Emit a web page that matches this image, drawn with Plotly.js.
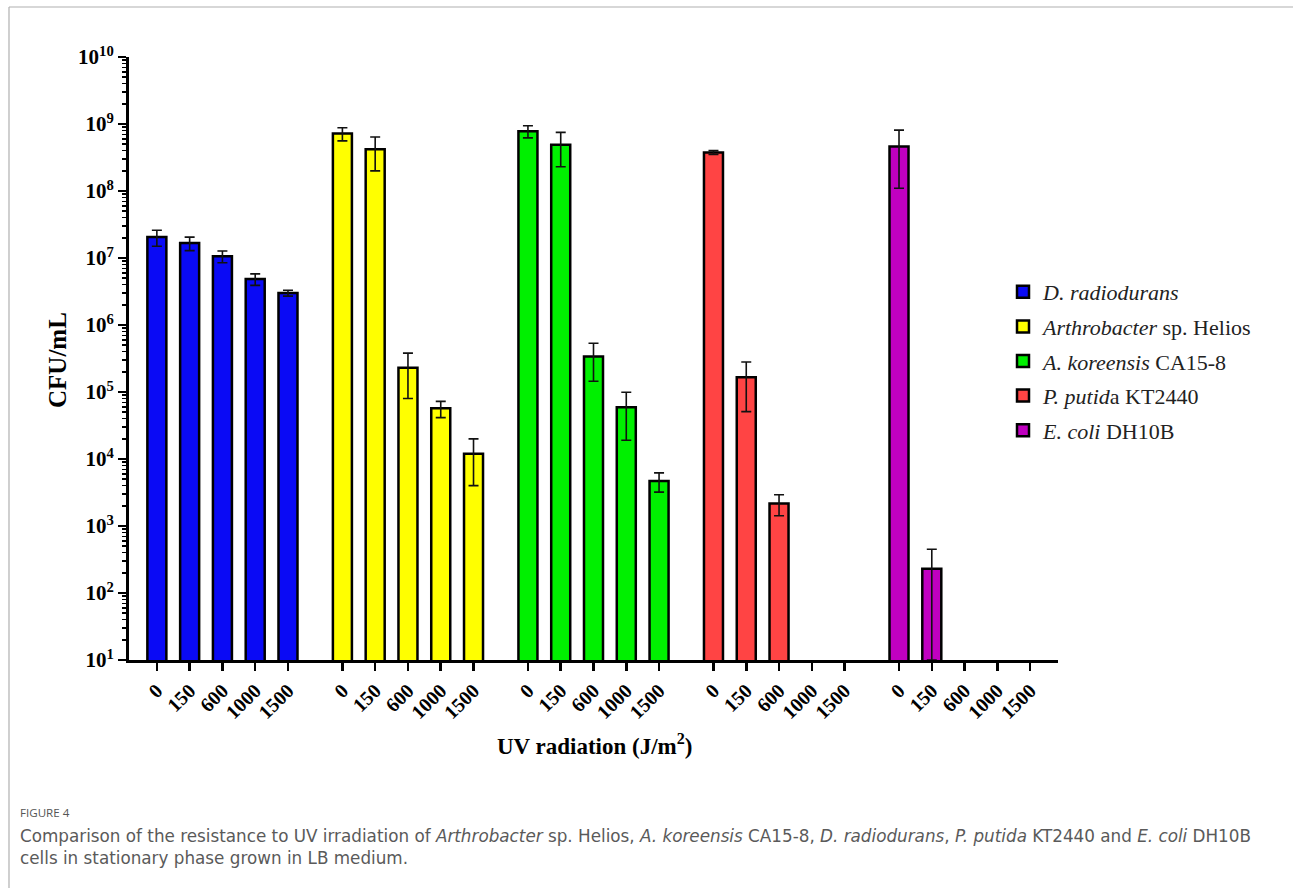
<!DOCTYPE html>
<html>
<head>
<meta charset="utf-8">
<script src="https://cdn.plot.ly/plotly-3.0.1.min.js"></script>
<style>
  html, body { margin: 0; padding: 0; background: #ffffff; }
  #chart { width: 1293px; height: 888px; }
</style>
</head>
<body>
<div id="chart"></div>
<script>
// ---------------- DATA ----------------
const doses = ["0", "150", "600", "1000", "1500"];
const strainNames = [
  "<i>D. radiodurans</i>",
  "<i>Arthrobacter</i> sp. Helios",
  "<i>A. koreensis</i> CA15-8",
  "<i>P. putid</i>a KT2440",
  "<i>E. coli</i> DH10B"
];
const radioduransCFU = [2.05e7, 1.67e7, 1.06e7, 4.85e6, 3.0e6];
const radioduransSD  = [5.5e6, 3.8e6, 2.1e6, 9.5e5, 3.0e5];
const heliosCFU = [7.2e8, 4.2e8, 2.3e5, 5.7e4, 1.2e4];
const heliosSD  = [1.6e8, 2.2e8, 1.5e5, 1.55e4, 8.0e3];
const koreensisCFU = [7.8e8, 4.9e8, 3.4e5, 5.9e4, 4.7e3];
const koreensisSD  = [1.6e8, 2.6e8, 1.95e5, 4.0e4, 1.5e3];
const putidaCFU = [3.75e8, 1.66e5, 2.17e3, null, null];
const putidaSD  = [2.5e7, 1.15e5, 7.5e2, 0, 0];
const coliCFU = [4.6e8, 230, null, null, null];
const coliSD  = [3.5e8, 220, 0, 0, 0];
const yTickValues = [1e1, 1e2, 1e3, 1e4, 1e5, 1e6, 1e7, 1e8, 1e9, 1e10];
const yTickLabels = ["10<sup>1</sup>", "10<sup>2</sup>", "10<sup>3</sup>", "10<sup>4</sup>", "10<sup>5</sup>",
                     "10<sup>6</sup>", "10<sup>7</sup>", "10<sup>8</sup>", "10<sup>9</sup>", "10<sup>10</sup>"];
const yTitle = "CFU/mL";
const xTitle = "UV radiation (J/m<sup>2</sup>)";
const captionHead = "FIGURE 4";
const captionLine1 = "Comparison of the resistance to UV irradiation of <i>Arthrobacter</i> sp. Helios, <i>A. koreensis</i> CA15-8, <i>D. radiodurans</i>, <i>P. putida</i> KT2440 and <i>E. coli</i> DH10B";
const captionLine2 = "cells in stationary phase grown in LB medium.";

// ---------------- STYLE / LAYOUT ----------------
const seriesValues = [radioduransCFU, heliosCFU, koreensisCFU, putidaCFU, coliCFU];
const seriesErrors = [radioduransSD, heliosSD, koreensisSD, putidaSD, coliSD];
const colors = ["#0a0af5", "#ffff00", "#00f000", "#ff4444", "#c000c0"];
const groupStep = 5.66;

const W = 1293, H = 888;
const mL = 129, mR = 235, mT = 57, mB = 228;
const plotW = W - mL - mR, plotH = H - mT - mB;
const px = x => (x - mL) / plotW;
const py = y => (H - mB - y) / plotH;

const serif = "Liberation Serif, Times New Roman, serif";
const sans = "Open Sans, sans-serif";
const captionFont = "DejaVu Sans, Open Sans, sans-serif";

const traces = seriesValues.map((vals, g) => ({
  type: "bar",
  name: strainNames[g],
  legendgroup: "g" + g,
  x: doses.map((d, i) => g * groupStep + i),
  y: vals,
  width: 0.58,
  marker: { color: colors[g], line: { color: "#000000", width: 2.5 } },
  error_y: { type: "data", array: seriesErrors[g], visible: true, color: "#111111", thickness: 1.6, width: 5 },
  hoverinfo: "skip"
}));

const tickVals = [], tickText = [];
seriesValues.forEach((vals, g) => doses.forEach((d, i) => { tickVals.push(g * groupStep + i); tickText.push(d); }));
const lastX = (seriesValues.length - 1) * groupStep + doses.length - 1;

const layout = {
  width: W, height: H,
  margin: { l: mL, r: mR, t: mT, b: mB, pad: 0 },
  paper_bgcolor: "#ffffff", plot_bgcolor: "#ffffff",
  showlegend: true,
  bargap: 0,
  font: { family: serif, color: "#000000" },
  xaxis: {
    range: [-0.85, lastX + 0.85],
    showgrid: false, zeroline: false,
    showline: true, linecolor: "#000000", linewidth: 3,
    tickmode: "array", tickvals: tickVals, ticktext: tickText,
    ticks: "outside", ticklen: 8, tickwidth: 2.5, tickcolor: "#000000",
    tickangle: -45,
    tickfont: { family: serif, size: 20, weight: "bold", color: "#000000" },
    fixedrange: true
  },
  yaxis: {
    type: "log",
    range: [1, 10],
    showgrid: false, zeroline: false,
    showline: true, linecolor: "#000000", linewidth: 3,
    tickmode: "array", tickvals: yTickValues, ticktext: yTickLabels,
    ticks: "outside", ticklen: 8, tickwidth: 2.5, tickcolor: "#000000",
    minor: { dtick: "D1", ticks: "outside", ticklen: 4, tickwidth: 1.5, tickcolor: "#000000", showgrid: false },
    tickfont: { family: serif, size: 21, weight: "bold", color: "#000000" },
    fixedrange: true
  },
  legend: {
    x: px(1003), xanchor: "left",
    y: py(271), yanchor: "top",
    font: { family: serif, size: 22, color: "#222222" },
    bgcolor: "rgba(0,0,0,0)",
    tracegroupgap: 3,
    traceorder: "grouped"
  },
  annotations: [
    { xref: "paper", yref: "paper", x: px(57), y: py(360), text: "<b>" + yTitle + "</b>", textangle: -90,
      showarrow: false, font: { family: serif, size: 25, color: "#000000" }, xanchor: "center", yanchor: "middle" },
    { xref: "paper", yref: "paper", x: px(594), y: py(744), text: "<b>" + xTitle + "</b>",
      showarrow: false, font: { family: serif, size: 23, color: "#000000" }, xanchor: "center", yanchor: "middle" },
    { xref: "paper", yref: "paper", x: px(18), y: py(812), text: captionHead,
      showarrow: false, font: { family: sans, size: 11.6, color: "#555555" }, xanchor: "left", yanchor: "middle" },
    { xref: "paper", yref: "paper", x: px(18), y: py(836), text: captionLine1,
      showarrow: false, font: { family: captionFont, size: 16.8, color: "#5a5a5a" }, xanchor: "left", yanchor: "middle" },
    { xref: "paper", yref: "paper", x: px(18), y: py(858), text: captionLine2,
      showarrow: false, font: { family: captionFont, size: 16.8, color: "#5a5a5a" }, xanchor: "left", yanchor: "middle" }
  ],
  shapes: [
    { type: "line", xref: "paper", yref: "paper", x0: px(9), x1: px(1293), y0: py(7), y1: py(7), line: { color: "#b0b0b0", width: 1.2 } },
    { type: "line", xref: "paper", yref: "paper", x0: px(9), x1: px(9), y0: py(7), y1: py(888), line: { color: "#b0b0b0", width: 1.2 } }
  ]
};

Plotly.newPlot("chart", traces, layout, { displayModeBar: false, staticPlot: true });
</script>
</body>
</html>
